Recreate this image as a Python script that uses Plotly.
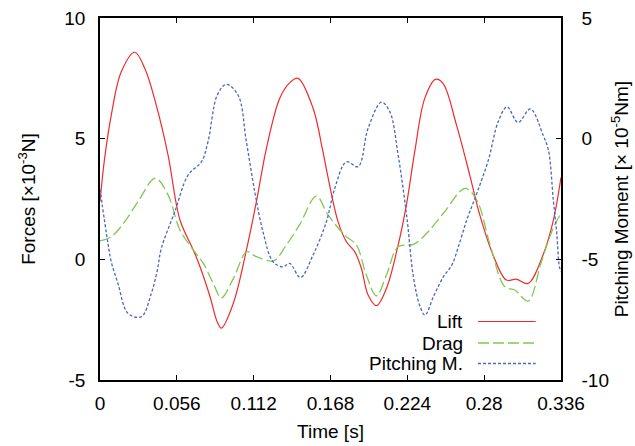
import plotly.graph_objects as go

# time [s] and forces [x10^-3 N]
lift_t = [0.0, 0.0034, 0.0083, 0.0155, 0.0253, 0.0326, 0.041, 0.0496, 0.0583, 0.068,
          0.0729, 0.0802, 0.0855, 0.0885, 0.0972, 0.107, 0.114, 0.1213, 0.131, 0.138,
          0.1443, 0.1553, 0.162, 0.1662, 0.1735, 0.1796, 0.1857, 0.1905, 0.1954, 0.2015,
          0.2088, 0.2173, 0.2233, 0.2294, 0.2367, 0.2445, 0.25, 0.2598, 0.2695, 0.2768,
          0.2865, 0.2962, 0.3035, 0.312, 0.3229, 0.3302, 0.336]
lift = [2.4, 4.2, 6.0, 7.77, 8.58, 7.92, 6.39, 4.32, 1.63, 0.39,
        -0.31, -1.55, -2.6, -2.85, -1.82, 0.46, 2.39, 4.6, 6.67, 7.3,
        7.5, 6.26, 4.6, 3.4, 1.56, 0.73, 0.31, -0.37, -1.48, -1.92,
        -1.2, 0.59, 2.25, 4.46, 6.67, 7.46, 7.29, 5.57, 3.49, 1.84,
        0.18, -0.86, -0.82, -1.0, 0.18, 1.56, 3.4]

drag_t = [0.0, 0.0083, 0.018, 0.0277, 0.0403, 0.0496, 0.0583, 0.068, 0.0753, 0.0826,
          0.0884, 0.0972, 0.107, 0.114, 0.1264, 0.1358, 0.1456, 0.1577, 0.1662, 0.1784,
          0.1869, 0.1941, 0.2015, 0.2088, 0.2173, 0.2284, 0.2382, 0.2503, 0.2661, 0.2746,
          0.2843, 0.295, 0.3023, 0.312, 0.3217, 0.3302, 0.336]
drag = [0.76, 0.94, 1.56, 2.39, 3.36, 2.67, 1.21, 0.39, -0.17, -1.0,
        -1.6, -0.8, 0.31, 0.11, -0.06, 0.59, 1.45, 2.62, 1.84, 1.0,
        0.59, -0.65, -1.51, -0.65, 0.52, 0.62, 1.08, 1.91, 2.94, 2.46,
        0.6, -1.13, -1.27, -1.73, -0.1, 1.28, 1.9]

# pitching moment [x10^-5 Nm]
pitch_t = [0.0, 0.0058, 0.0082, 0.0131, 0.0204, 0.0301, 0.0374, 0.0418, 0.0447, 0.0545,
           0.0642, 0.0739, 0.0787, 0.0855, 0.0921, 0.1006, 0.1067, 0.1128, 0.1188, 0.1261,
           0.1334, 0.1383, 0.146, 0.1553, 0.165, 0.1711, 0.1796, 0.1881, 0.1954, 0.2051,
           0.2112, 0.2173, 0.2236, 0.2284, 0.2333, 0.2369, 0.243, 0.2503, 0.2564, 0.2612,
           0.2673, 0.2746, 0.2831, 0.2902, 0.2967, 0.3047, 0.3137, 0.3229, 0.3268, 0.3304,
           0.3329, 0.3348, 0.336]
pitch = [-2.1, -4.34, -5.1, -6.0, -7.24, -7.38, -6.41, -5.45, -4.54, -3.03,
         -1.51, -0.96, -0.13, 1.81, 2.25, 1.81, -0.13, -2.2, -3.86, -5.1,
         -5.31, -5.17, -5.75, -4.82, -3.44, -2.06, -0.96, -1.16, 0.43, 1.51,
         1.12, -0.68, -3.23, -5.72, -6.96, -7.31, -6.55, -5.72, -5.24, -4.48,
         -3.37, -2.27, -0.88, 0.7, 1.32, 0.67, 1.23, 0.15, -0.47, -2.54,
         -3.92, -5.3, -5.5]

x_ticks = [0, 0.056, 0.112, 0.168, 0.224, 0.28, 0.336]
x_labels = ["0", "0.056", "0.112", "0.168", "0.224", "0.28", "0.336"]
y_ticks = [-5, 0, 5, 10]
y_labels = ["-5", "0", "5", "10"]
y2_ticks = [-10, -5, 0, 5]
y2_labels = ["-10", "-5", "0", "5"]

red = "#ee2a2a"
green = "#80c855"
blue = "#4a66c0"
font = "Liberation Sans, Arial, sans-serif"

fig = go.Figure()
fig.add_trace(go.Scatter(x=lift_t, y=lift, name="Lift", mode="lines",
                         line=dict(color=red, width=1.2, shape="spline")))
fig.add_trace(go.Scatter(x=drag_t, y=drag, name="Drag", mode="lines",
                         line=dict(color=green, width=1.3, shape="spline", dash="11px,4px")))
fig.add_trace(go.Scatter(x=pitch_t, y=pitch, name="Pitching M.", mode="lines", yaxis="y2",
                         line=dict(color=blue, width=1.3, shape="spline", dash="3px,2px")))

axis = dict(showline=True, linecolor="black", linewidth=1.5, ticks="inside", ticklen=5,
            tickcolor="black", showgrid=False, zeroline=False, automargin=False,
            tickfont=dict(size=19, color="black"))

fig.update_layout(
    width=635, height=446,
    margin=dict(l=100, r=74, t=18, b=66),
    paper_bgcolor="white", plot_bgcolor="white",
    font=dict(family=font, size=19, color="black"),
    showlegend=False,
    xaxis=dict(axis, range=[0, 0.336], tickvals=x_ticks, ticktext=x_labels, mirror="ticks",
               ticklabelstandoff=5,
               title=dict(text="Time [s]", font=dict(size=19), standoff=12)),
    yaxis=dict(axis, range=[-5, 10], tickvals=y_ticks, ticktext=y_labels, ticklabelstandoff=9,
               title=dict(text="Forces [×10<sup>-3</sup>N]", font=dict(size=19), standoff=24)),
    yaxis2=dict(axis, range=[-10, 5], tickvals=y2_ticks, ticktext=y2_labels, overlaying="y",
                side="right", ticklabelstandoff=15,
                title=dict(text="Pitching Moment [× 10<sup>-5</sup>Nm]", font=dict(size=19),
                           standoff=7)),
)

# gnuplot-style key: label on the left, line sample on the right
rows = [(0.1616, "Lift", red, "solid", 1.2),
        (0.1022, "Drag", green, "11px,4px", 1.3),
        (0.0456, "Pitching M.", blue, "3px,2px", 1.3)]
for yy, label, col, dash, w in rows:
    fig.add_annotation(x=0.792, y=yy, xref="paper", yref="paper", text=label,
                       showarrow=False, xanchor="right", yanchor="middle",
                       font=dict(size=19, color="black"))
    fig.add_shape(type="line", xref="paper", yref="paper", x0=0.82, x1=0.945, y0=yy, y1=yy,
                  line=dict(color=col, width=w, dash=dash))

# drop the default 8px body margin so the figure fills the window exactly
fig.write_html("out.html", config={"displayModeBar": False},
               post_script="document.body.style.margin='0px';")
